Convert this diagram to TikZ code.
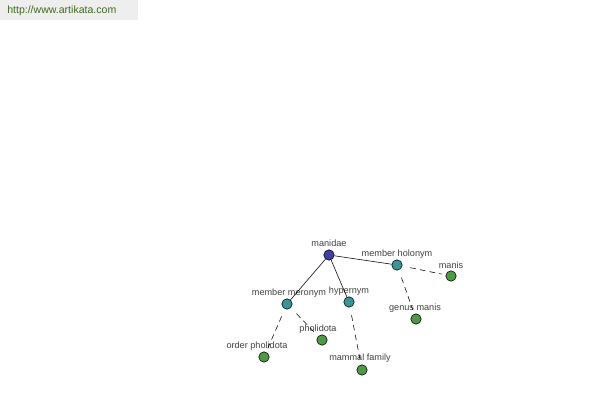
\documentclass[tikz,border=0pt]{standalone}
\usepackage{fontspec}
\setmainfont{Liberation Sans}
\usetikzlibrary{positioning}
\definecolor{rootColor}{HTML}{3F3FA5}
\definecolor{relColor}{HTML}{3A9696}
\definecolor{leafColor}{HTML}{4E9A44}
\definecolor{urlColor}{HTML}{3F6A1E}
\definecolor{bandColor}{HTML}{EEEEEE}
\tikzset{
  dot/.style={circle, draw=black, thin, minimum size=0.26cm, inner sep=0pt},
  tag/.style={font=\fontsize{6.5}{7}\selectfont, text=black!75, inner sep=0pt},
  link/.style={draw=black, thin},
  weak/.style={draw=black, thin, dash pattern=on 4pt off 3pt, shorten <=0.2cm, shorten >=0.1cm}
}

\begin{document}
\begin{tikzpicture}[x=0.025cm, y=-0.025cm]
          \useasboundingbox (0,0) rectangle (600,400);
          \fill[bandColor] (0,0) rectangle (138,20);
          \node[anchor=west, text=urlColor, font=\fontsize{7.5}{9}\selectfont, inner sep=0pt] (url) at (7,11) {http://www.artikata.com};
          % nodes
          \node[dot, fill=rootColor] (manidae) at (329,255) {};
          \node[dot, fill=relColor] (holonym) at (397,265) {};
          \node[dot, fill=relColor] (hypernym) at (349,302) {};
          \node[dot, fill=relColor] (meronym) at (287,304) {};
          \node[dot, fill=leafColor] (manis) at (451,276) {};
          \node[dot, fill=leafColor] (genus) at (416,319) {};
          \node[dot, fill=leafColor] (mammal) at (362,370) {};
          \node[dot, fill=leafColor] (pholidota) at (322,340) {};
          \node[dot, fill=leafColor] (order) at (264,357) {};
          % labels
          \node[tag] (manidaeTag) at (329,243) {manidae};
          \node[tag] (holonymTag) at (397,254) {member holonym};
          \node[tag] (hypernymTag) at (349,291) {hypernym};
          \node[tag] (meronymTag) at (289,293) {member meronym};
          \node[tag] (manisTag) at (451,265) {manis};
          \node[tag] (genusTag) at (415,308) {genus manis};
          \node[tag] (mammalTag) at (360,358) {mammal family};
          \node[tag] (pholidotaTag) at (318,329) {pholidota};
          \node[tag] (orderTag) at (257,346) {order pholidota};
          % connectors
          \draw[link] (manidae) -- (holonym);
          \draw[link] (manidae) -- (hypernym);
          \draw[link] (manidae) -- (meronym);
          \draw[weak] (holonym) -- (manis);
          \draw[weak] (holonym) -- (genus);
          \draw[weak] (hypernym) -- (mammal);
          \draw[weak] (meronym) -- (pholidota);
          \draw[weak] (meronym) -- (order);
        \end{tikzpicture}
\end{document}
